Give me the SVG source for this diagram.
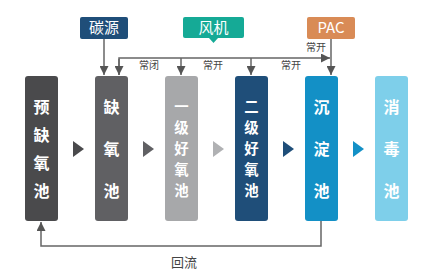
<svg xmlns="http://www.w3.org/2000/svg" width="429" height="277" viewBox="0 0 429 277">
<defs>
<marker id="ah" viewBox="0 0 10 10" refX="10" refY="5" markerWidth="9" markerHeight="9" markerUnits="userSpaceOnUse" orient="auto">
<path d="M0,0 L10,5 L0,10 z" fill="#555"/>
</marker>
<style>
.ln{fill:none;stroke:#666;stroke-width:1.5}
.bt{font-family:"Noto Sans CJK SC","Noto Sans",sans-serif;font-size:16px;font-weight:bold;fill:#fff;text-anchor:middle}
.bs{font-size:14.4px}
.lt{font-family:"Noto Sans CJK SC","Noto Sans",sans-serif;font-size:15px;fill:#fff;text-anchor:middle}
.st{font-family:"Noto Sans CJK SC","Noto Sans",sans-serif;font-size:10px;fill:#444;text-anchor:middle}
.rt{font-family:"Noto Sans CJK SC","Noto Sans",sans-serif;font-size:13px;fill:#444;text-anchor:middle}
</style>
</defs>
<rect width="429" height="277" fill="#fff"/>
<g id="connectors">
<path class="ln" d="M104,39 V75" marker-end="url(#ah)"/>
<path class="ln" d="M119,75 V58 H330" marker-end="url(#ah)"/>
<path class="ln" d="M119,59 V75" marker-end="url(#ah)"/>
<path class="ln" d="M181,58 V75" marker-end="url(#ah)"/>
<path class="ln" d="M251,58 V75" marker-end="url(#ah)"/>
<path class="ln" d="M331,39 V75" marker-end="url(#ah)"/>
<path class="ln" d="M321,221 V246 H41 V222" marker-end="url(#ah)"/>
<text class="st" x="149" y="69">常闭</text>
<text class="st" x="213" y="69">常开</text>
<text class="st" x="291" y="69">常开</text>
<text class="st" x="316" y="51">常开</text>
<text class="rt" x="184" y="267">回流</text>
<polygon points="73,141 84,149 73,157" fill="#4a4a4c"/>
<polygon points="143,141 154,149 143,157" fill="#606063"/>
<polygon points="213,141 224,149 213,157" fill="#b0b1b3"/>
<polygon points="283,141 294,149 283,157" fill="#1f4e79"/>
<polygon points="353,141 364,149 353,157" fill="#1390c6"/>
</g>
<g id="src">
<rect x="80" y="17" width="48" height="22" rx="2" fill="#1f4e79"/>
<text class="lt" x="104" y="33">碳源</text>
</g>
<g id="fan">
<rect x="183" y="17" width="61" height="21" rx="2" fill="#15aa96"/>
<polygon points="209,38 218,38 213.5,43" fill="#15aa96"/>
<text class="lt" x="213.5" y="33">风机</text>
</g>
<g id="pac">
<rect x="307" y="17" width="48" height="22" rx="2" fill="#d98b56"/>
<text class="lt" x="331" y="33">PAC</text>
</g>
<g id="n1">
<rect x="25" y="76" width="33" height="145" rx="3" fill="#4a4a4c"/>
<text class="bt" x="41.5" y="113">预</text>
<text class="bt" x="41.5" y="141">缺</text>
<text class="bt" x="41.5" y="169">氧</text>
<text class="bt" x="41.5" y="197">池</text>
</g>
<g id="n2">
<rect x="95" y="76" width="33" height="145" rx="3" fill="#606063"/>
<text class="bt" x="111.5" y="113">缺</text>
<text class="bt" x="111.5" y="155">氧</text>
<text class="bt" x="111.5" y="197">池</text>
</g>
<g id="n3">
<rect x="165" y="76" width="33" height="145" rx="3" fill="#a7a8aa"/>
<text class="bt bs" x="181.5" y="112">一</text>
<text class="bt bs" x="181.5" y="133">级</text>
<text class="bt bs" x="181.5" y="154">好</text>
<text class="bt bs" x="181.5" y="175">氧</text>
<text class="bt bs" x="181.5" y="196">池</text>
</g>
<g id="n4">
<rect x="235" y="76" width="33" height="145" rx="3" fill="#1f4e79"/>
<text class="bt bs" x="251.5" y="112">二</text>
<text class="bt bs" x="251.5" y="133">级</text>
<text class="bt bs" x="251.5" y="154">好</text>
<text class="bt bs" x="251.5" y="175">氧</text>
<text class="bt bs" x="251.5" y="196">池</text>
</g>
<g id="n5">
<rect x="305" y="76" width="33" height="145" rx="3" fill="#1390c6"/>
<text class="bt" x="321.5" y="113">沉</text>
<text class="bt" x="321.5" y="155">淀</text>
<text class="bt" x="321.5" y="197">池</text>
</g>
<g id="n6">
<rect x="375" y="76" width="33" height="145" rx="3" fill="#7ecfea"/>
<text class="bt" x="391.5" y="113">消</text>
<text class="bt" x="391.5" y="155">毒</text>
<text class="bt" x="391.5" y="197">池</text>
</g>
</svg>
